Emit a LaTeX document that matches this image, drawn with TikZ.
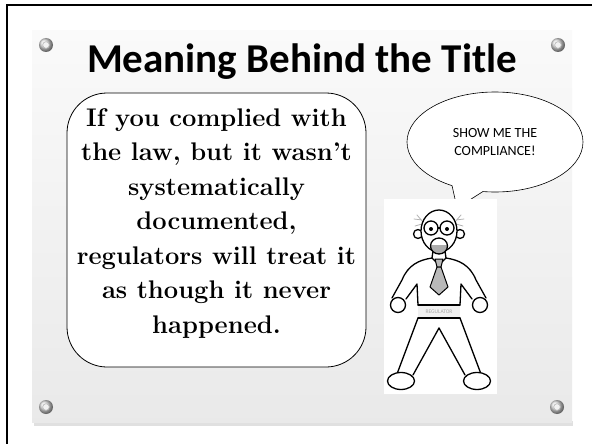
\documentclass[tikz,border=0pt]{standalone}
\usepackage{fontspec}
\newfontfamily\carlito{Carlito}
\usetikzlibrary{shapes.geometric}
\tikzset{
  figline/.style={line width=1.3pt, line join=round, line cap=round},
  hairline/.style={gray!60, line width=0.8pt, line cap=round},
  screwring/.style={ball color=gray!25},
}
\begin{document}
\begin{tikzpicture}[x=1pt,y=-1pt]
\useasboundingbox (0,0) rectangle (592,444);
\fill[white] (0,0) rectangle (592,444);
\draw[line width=2pt] (7,444) -- (7,5.5) -- (592,5.5);

% panel
\fill[gray!40, opacity=0.6] (34,421) rectangle (573,426);
\shade[top color=gray!4, bottom color=gray!17] (32,31) rectangle (572,422);
\foreach \x/\y in {46/45, 558/45, 46/407, 557/407} {
  \shade[screwring] (\x,\y) circle (7);
  \draw[fill=gray!10, draw=gray!55, line width=0.6pt] (\x,\y) circle (3.3);
}

\node[font=\carlito\bfseries\fontsize{41}{49}\selectfont, anchor=base] (title) at (302,73) {Meaning Behind the Title};

% claim
\node[draw, fill=white, line width=0.8pt, rounded corners=40pt,
      minimum width=299pt, minimum height=274pt] (claimbox) at (216.5,230) {};
\node[align=center, font=\bfseries\fontsize{25.5}{34.5}\selectfont] (claim) at (216.5,223.5)
  {If you complied with\\the law, but it wasn't\\systematically\\documented,\\regulators will treat it\\as though it never\\happened.};

% speech bubble
\node[ellipse, draw, fill=white, line width=0.6pt, minimum width=176pt, minimum height=100pt,
      align=center, font=\carlito\fontsize{14}{18}\selectfont] (bubble) at (495,142) {SHOW ME THE\\COMPLIANCE!};
\coordinate (tip) at (457,208);
\fill[white] (450,182) -- (452,185.5) -- (tip) -- (483,191.5) -- (486,186) -- cycle;
\draw[line width=0.6pt, line join=round] (452,185.5) -- (tip) -- (483,191.5);

% regulator
\fill[white] (384,199) rectangle (497,394);
\foreach \s in {1,-1} {
  \begin{scope}[shift={(439,0)}, xscale=\s]
    \draw[figline, fill=white] (-21,234) circle (4.5);
    \draw[hairline] (-16,222) -- (-22,215) (-17,220) -- (-25,219) (-17,224) -- (-24,226);
  \end{scope}
}
\draw[figline, fill=white] (439,231) ellipse (18 and 21);
\foreach \s in {1,-1} {
  \begin{scope}[shift={(439,0)}, xscale=\s]
    \draw[figline] (-8,228) circle (7);
    \fill (-8,229) circle (2);
    \draw[figline] (-6,251) -- (-7,258) -- (-3,262);
    \draw[figline] (-7,258) .. controls (-20,260) and (-31,265) .. (-37,280) -- (-47,298);
    \draw[figline] (-33,299) -- (-22,284) -- (-21,305);
    \draw[figline, fill=white] (-41,305) circle (7.5);
    \draw[figline] (-21,318) -- (-42,374) (0,328) -- (-26,375);
    \draw[figline, fill=white] (-38,381) ellipse (13.5 and 8.5);
  \end{scope}
}
\draw[figline] (438,228) -- (440,228);
\begin{scope}
  \clip (439,246) ellipse (8.5 and 8);
  \fill[white] (430,237) rectangle (448,245);
  \fill[gray!65] (430,245) rectangle (448,255);
\end{scope}
\draw[figline] (439,246) ellipse (8.5 and 8);
\draw[line width=1pt, fill=gray!55, line join=round] (435,259) -- (443,259) -- (441,267) -- (437,267) -- cycle;
\draw[line width=1pt, fill=gray!55, line join=round] (437,267) -- (430,287) -- (439,295) -- (448,287) -- (441,267) -- cycle;
\fill[gray!12] (418,305) rectangle (460,318);
\draw[figline] (418,305) -- (460,305) (418,318) -- (460,318);
\node[font=\carlito\fontsize{5.5}{6}\selectfont, text=gray!70] (badge) at (439,311.5) {REGULATOR};
\end{tikzpicture}
\end{document}
